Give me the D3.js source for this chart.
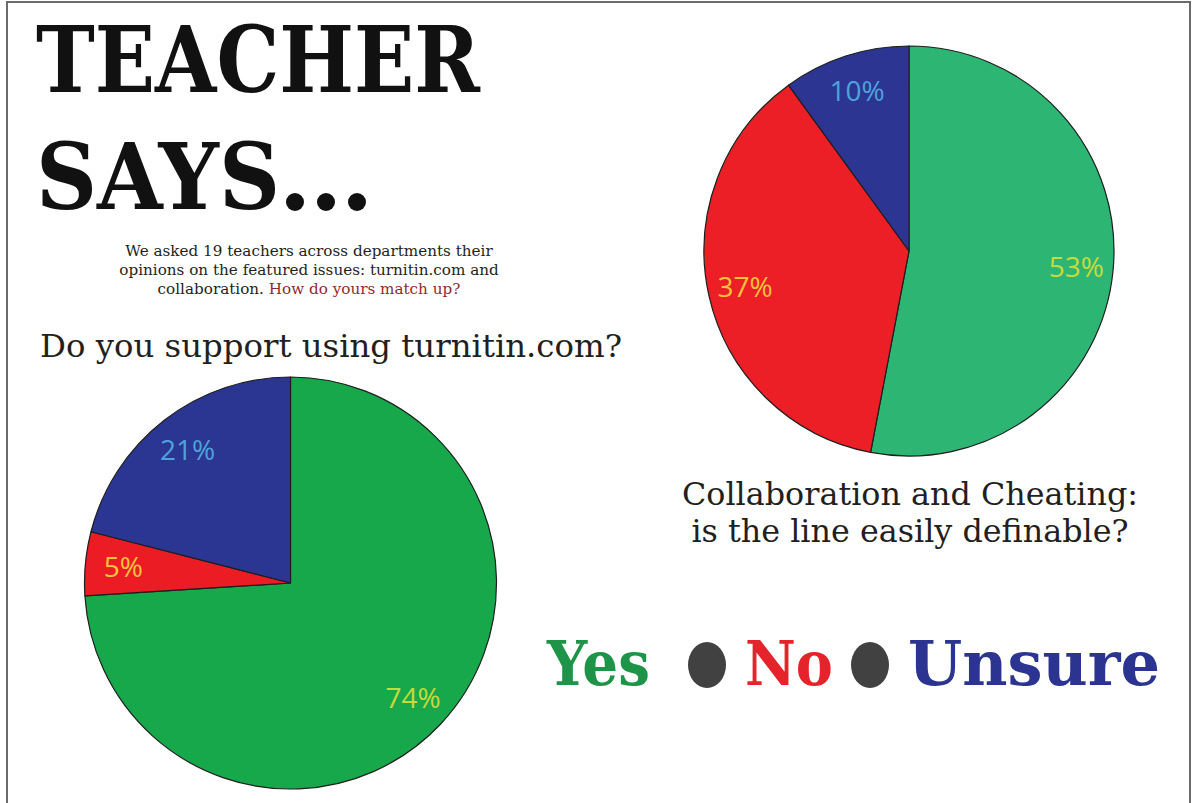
<!DOCTYPE html>
<html>
<head>
<meta charset="utf-8">
<script src="https://cdn.jsdelivr.net/npm/d3@7"></script>
<style>
  body { margin: 0; background: #fff; }
  svg { display: block; }
</style>
</head>
<body>
<svg id="chart" width="1196" height="803"></svg>
<script>
// data — survey of 19 teachers
const answers = ["Yes", "No", "Unsure"];
const turnitinPct = [74, 5, 21];
const collabPct = [53, 37, 10];
const introLines = [
  "We asked 19 teachers across departments their",
  "opinions on the featured issues: turnitin.com and",
  "collaboration."
];
const introAsk = "How do yours match up?";
const q1 = ["Do you support using turnitin.com?"];
const q2 = ["Collaboration and Cheating:", "is the line easily definable?"];

// colours
const ink = "#231f20";
const labelColors = ["#c9d93b", "#f6c33b", "#4ea3dc"];
const legendColors = ["#1d9447", "#e5232a", "#2b3591"];

const svg = d3.select("#chart");

// page frame
svg.append("path")
  .attr("d", "M7,803 V2 H1190 V803")
  .attr("fill", "none")
  .attr("stroke", "#6b6b6b")
  .attr("stroke-width", 2);

// big heading
const headFont = "'DejaVu Serif', serif";
svg.append("text")
  .attr("x", 36).attr("y", 92)
  .attr("textLength", 444).attr("lengthAdjust", "spacingAndGlyphs")
  .style("font-family", headFont).style("font-weight", 700)
  .style("font-size", "92px").attr("fill", "#111")
  .text("TEACHER");
svg.append("text")
  .attr("x", 36).attr("y", 209)
  .attr("textLength", 244).attr("lengthAdjust", "spacingAndGlyphs")
  .style("font-family", headFont).style("font-weight", 700)
  .style("font-size", "92px").attr("fill", "#111")
  .text("SAYS");
// trailing dots
svg.selectAll(".dot")
  .data([0, 1, 2])
  .join("circle")
    .attr("cx", i => 295 + i * 31)
    .attr("cy", 202)
    .attr("r", 9)
    .attr("fill", "#111");

// intro paragraph
const intro = svg.append("text")
  .attr("text-anchor", "middle")
  .style("font-family", "'DejaVu Serif', serif")
  .style("font-size", "15.2px")
  .attr("fill", ink);
introLines.forEach((line, i) => {
  intro.append("tspan")
    .attr("x", 309)
    .attr("y", 256 + i * 19)
    .text(line);
  if (i === introLines.length - 1) {
    intro.append("tspan").attr("fill", "#8e2b2e").text(" " + introAsk);
  }
});

// questions
svg.append("text")
  .attr("x", 40).attr("y", 357)
  .attr("textLength", 582).attr("lengthAdjust", "spacingAndGlyphs")
  .style("font-family", "'DejaVu Serif', serif")
  .style("font-size", "32px")
  .attr("fill", ink)
  .text(q1[0]);

svg.append("g")
  .selectAll("text")
  .data(q2)
  .join("text")
    .attr("x", 910)
    .attr("y", (d, i) => 505 + i * 37)
    .attr("text-anchor", "middle")
    .style("font-family", "'DejaVu Serif', serif")
    .style("font-size", "31.8px")
    .attr("fill", ink)
    .text(d => d);

// pies
const pie = d3.pie().sort(null).value(d => d.value);

function drawPie(values, cx, cy, r, fills, labelR) {
  const data = answers.map((a, i) => ({ answer: a, value: values[i], idx: i }));
  const arc = d3.arc().innerRadius(0).outerRadius(r);
  const labelArc = d3.arc().innerRadius(labelR).outerRadius(labelR);
  const g = svg.append("g").attr("transform", `translate(${cx},${cy})`);

  g.selectAll("path")
    .data(pie(data))
    .join("path")
      .attr("d", arc)
      .attr("fill", d => fills[d.data.idx])
      .attr("stroke", "#1e1e1e")
      .attr("stroke-width", 1.2)
      .attr("stroke-linejoin", "round");

  g.selectAll("text")
    .data(pie(data))
    .join("text")
      .attr("transform", d => `translate(${labelArc.centroid(d)})`)
      .attr("text-anchor", "middle")
      .attr("dy", "0.35em")
      .style("font-family", "'Open Sans', sans-serif")
      .style("font-size", "28px")
      .attr("fill", d => labelColors[d.data.idx])
      .text(d => `${d.data.value}%`);
}

drawPie(turnitinPct, 290.5, 583, 206, ["#17a84b", "#ec1c24", "#2b3592"], 168);
drawPie(collabPct, 909, 251, 205, ["#2db573", "#ec1e26", "#2c3592"], 168);

// legend
const legend = svg.append("g");
const legendX = [547, 745, 908];
const legendW = [103, 88, 252];
legend.selectAll("text")
  .data(answers)
  .join("text")
    .attr("x", (d, i) => legendX[i])
    .attr("y", 685)
    .attr("textLength", (d, i) => legendW[i])
    .attr("lengthAdjust", "spacingAndGlyphs")
    .style("font-family", headFont)
    .style("font-weight", 700)
    .style("font-size", "62px")
    .attr("fill", (d, i) => legendColors[i])
    .text(d => d);
legend.selectAll("ellipse")
  .data([707, 870])
  .join("ellipse")
    .attr("cx", d => d)
    .attr("cy", 665)
    .attr("rx", 19)
    .attr("ry", 23)
    .attr("fill", "#414141");
</script>
</body>
</html>
